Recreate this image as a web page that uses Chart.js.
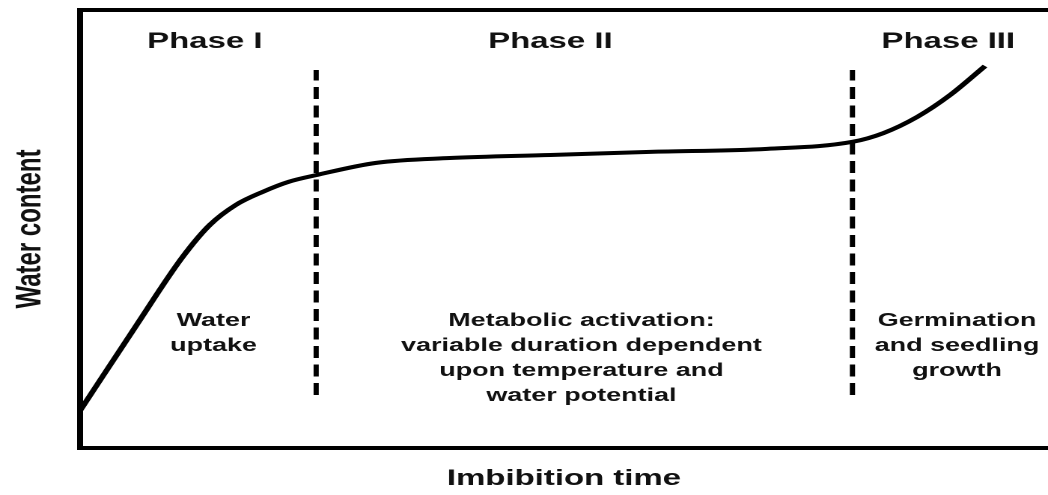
<!DOCTYPE html>
<html>
<head>
<meta charset="utf-8">
<script src="https://cdn.jsdelivr.net/npm/chart.js@4/dist/chart.umd.min.js"></script>
<style>
  html, body { margin: 0; padding: 0; background: #fff; overflow: hidden; }
  /* the original figure is stretched sideways, so the canvas is too */
  #wrap { width: 700px; height: 495px; transform: scaleX(1.4971); transform-origin: 0 0; }
  #phaseChart { width: 700px; height: 495px; }
</style>
</head>
<body>
<div id="wrap"><canvas id="phaseChart" width="700" height="495"></canvas></div>
<script>
// imbibition curve, time and water content on a 0-100 scale
const curveTime  = [0, 5.8, 10.6, 13.4, 16.1, 18.9, 21.6, 24.4, 30.6, 38.2, 48.6, 58.9, 71.0, 79.8, 83.0, 86.5, 89.9, 93.5];
const curveWater = [8.5, 27.9, 43.6, 50.9, 55.5, 58.5, 60.8, 62.3, 65.1, 66.2, 66.9, 67.6, 68.3, 69.9, 71.9, 75.6, 80.6, 87.2];

// phase boundaries (dashed lines)
const boundaryTime = [24.4, 79.8];
const boundarySpan = [12.1, 86.3];

// labels
const phaseNames = ['Phase I', 'Phase II', 'Phase III'];
const phaseTime  = [12.9, 48.6, 89.7];
const phaseLevel = 92.7;
const phaseNotes = [
    ['Water', 'uptake'],
    ['Metabolic activation:', 'variable duration dependent', 'upon temperature and', 'water potential'],
    ['Germination', 'and seedling', 'growth']
];
const noteTime  = [13.8, 51.8, 90.6];
const noteLevel = 29.0;

const textColor = '#111';
const fontFamily = '"Liberation Sans", Arial, sans-serif';

const datasets = [{
    data: curveTime.map((t, i) => ({ x: t, y: curveWater[i] })),
    borderColor: '#000',
    borderWidth: 4,
    pointRadius: 0,
    cubicInterpolationMode: 'monotone'
}];
boundaryTime.forEach(t => {
    datasets.push({
        data: boundarySpan.map(v => ({ x: t, y: v })),
        borderColor: '#000',
        borderWidth: 3.5,
        borderDash: [12, 6.5],
        pointRadius: 0
    });
});

const phaseText = {
    id: 'phaseText',
    afterDatasetsDraw(chart) {
        const { ctx, scales: { x, y } } = chart;
        ctx.save();
        ctx.fillStyle = textColor;
        ctx.textAlign = 'center';
        ctx.textBaseline = 'middle';
        ctx.font = 'bold 22px ' + fontFamily;
        phaseNames.forEach((name, i) => {
            ctx.fillText(name, x.getPixelForValue(phaseTime[i]), y.getPixelForValue(phaseLevel));
        });
        ctx.font = 'bold 18px ' + fontFamily;
        phaseNotes.forEach((lines, i) => {
            lines.forEach((line, j) => {
                ctx.fillText(line, x.getPixelForValue(noteTime[i]), y.getPixelForValue(noteLevel) + j * 25);
            });
        });
        ctx.restore();
    }
};

const hidden = { display: false };
new Chart(document.getElementById('phaseChart'), {
    type: 'line',
    data: { datasets: datasets },
    options: {
        responsive: false,
        animation: false,
        devicePixelRatio: 2,
        layout: { padding: { left: 0, top: 10, right: 0, bottom: 0 } },
        plugins: { legend: hidden, tooltip: { enabled: false } },
        scales: {
            x: {
                type: 'linear', min: 0, max: 100, position: 'bottom',
                ticks: hidden,
                grid: { display: false, drawTicks: false },
                border: { display: true, width: 4, color: '#000' },
                title: {
                    display: true, text: 'Imbibition time', color: textColor,
                    font: { family: fontFamily, size: 22, weight: 'bold' },
                    padding: { top: 17.6, bottom: 3 }
                }
            },
            xTop: {
                type: 'linear', position: 'top', min: 0, max: 100,
                ticks: hidden,
                grid: { display: false, drawTicks: false },
                border: { display: true, width: 4, color: '#000' }
            },
            y: {
                type: 'linear', min: 0, max: 100,
                ticks: hidden,
                grid: { display: false, drawTicks: false },
                border: { display: true, width: 4, color: '#000' },
                title: {
                    display: true, text: 'Water content', color: textColor,
                    font: { family: fontFamily, size: 24, weight: 'bold' },
                    padding: { top: 6, bottom: 18.6 }
                }
            }
        }
    },
    plugins: [phaseText]
});
</script>
</body>
</html>
